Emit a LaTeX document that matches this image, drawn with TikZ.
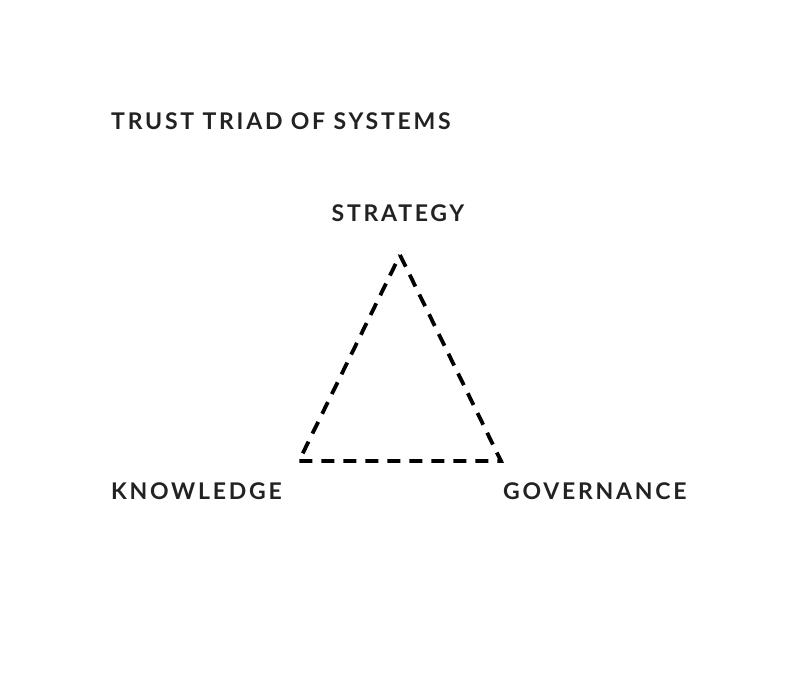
\documentclass[tikz,border=0pt]{standalone}
\usepackage{fontspec}
\usepackage{xcolor}
\usetikzlibrary{positioning}
\setmainfont{Lato}
\newfontfamily\triadfont{Lato}[LetterSpace=12]
\definecolor{triadink}{HTML}{222222}

\begin{document}
\begin{tikzpicture}[x=1pt, y=-1pt,
  label/.style={text=triadink, font=\triadfont\bfseries\fontsize{23}{26}\selectfont, inner sep=0pt},
  edge/.style={line width=3.8pt, black, dash pattern=on 13pt off 9pt, line join=miter}
]
  \useasboundingbox (0,0) rectangle (800,700);

  \node[label, anchor=west] (title) at (111,121) {TRUST TRIAD OF SYSTEMS};

  \node[label] (strategy) at (398,213) {STRATEGY};
  \node[label, anchor=west] (knowledge) at (111,491) {KNOWLEDGE};
  \node[label, anchor=west] (governance) at (503,491) {GOVERNANCE};

  \coordinate (apex) at (400,255);
  \coordinate (left) at (299,461);
  \coordinate (right) at (501,461);

  \draw[edge] (apex) -- (right) -- (left) -- cycle;
\end{tikzpicture}
\end{document}
